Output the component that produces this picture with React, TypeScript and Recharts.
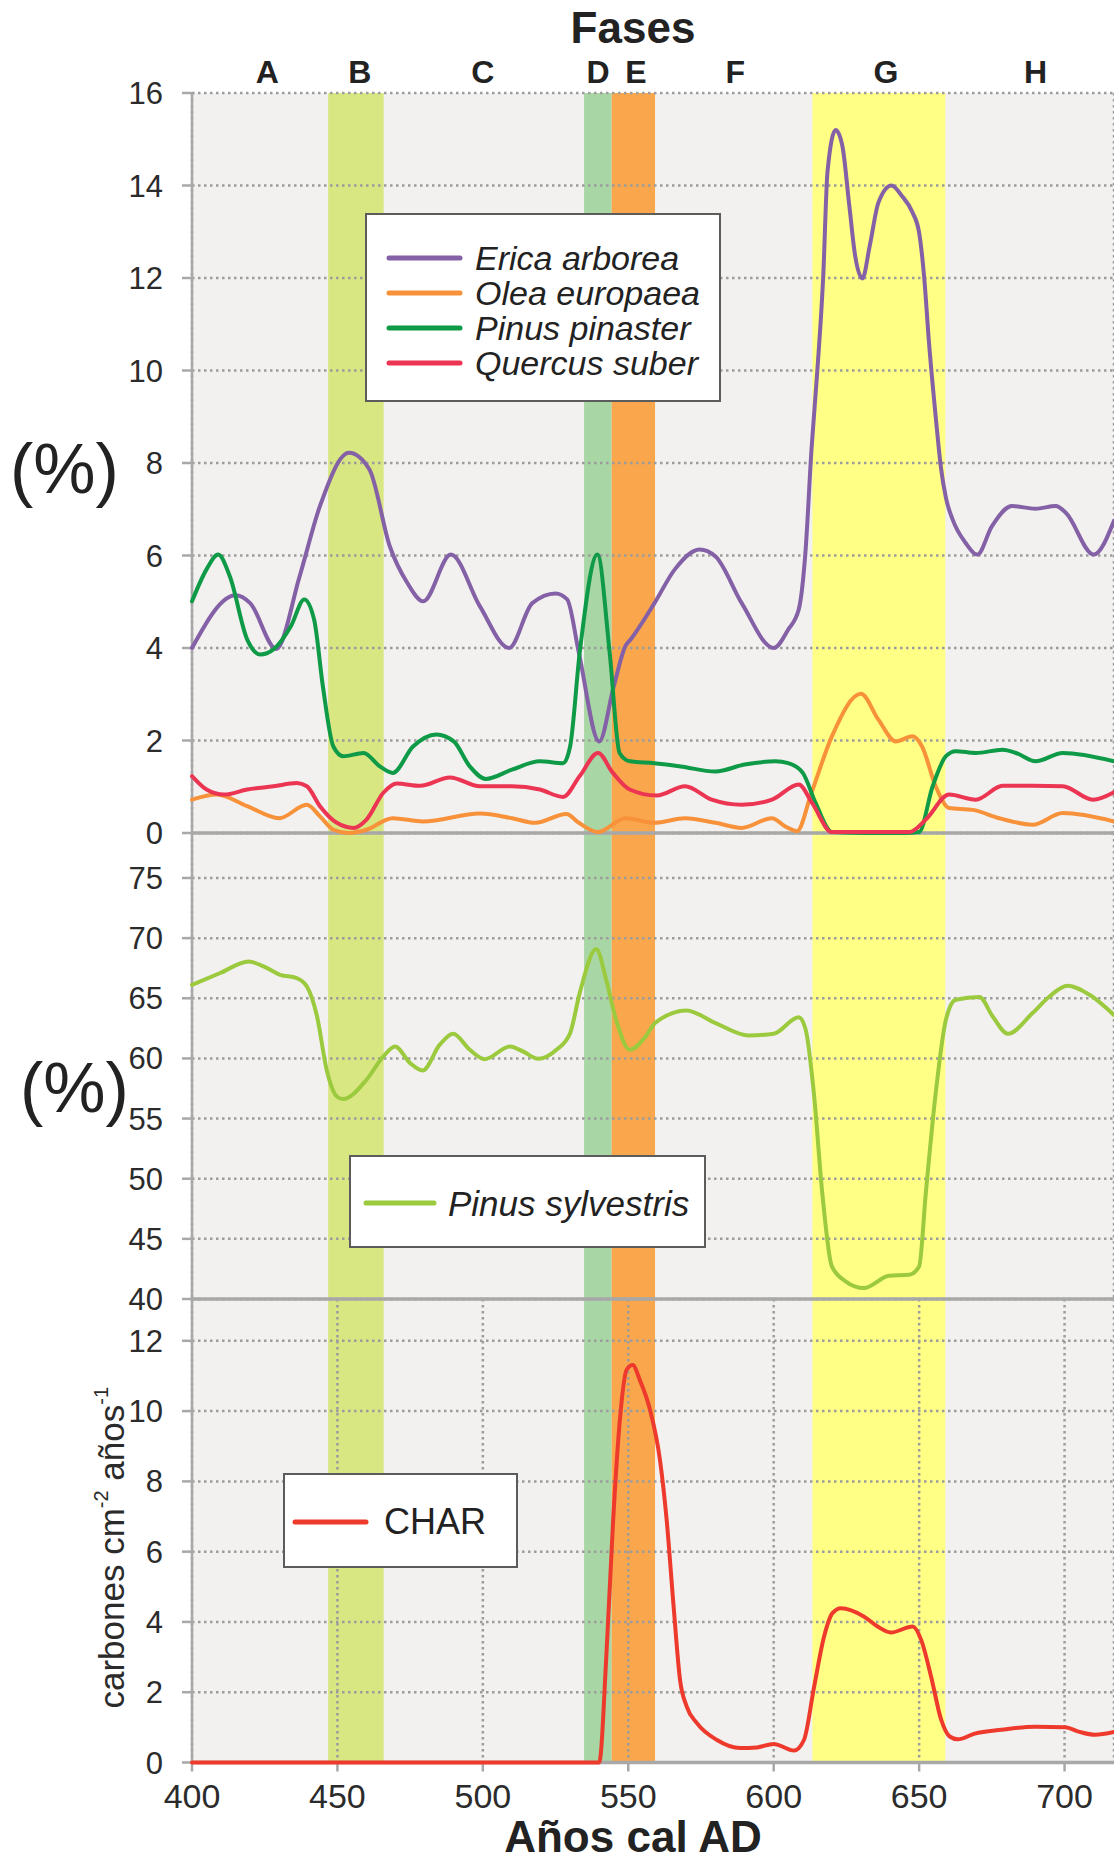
import React from "react";
import {
  CartesianGrid,
  Label,
  Legend,
  Line,
  LineChart,
  ReferenceArea,
  ReferenceLine,
  XAxis,
  YAxis,
} from "recharts";

const FONT = '"Liberation Sans", Arial, Helvetica, sans-serif';

// shared time axis (years cal AD)
const YEAR_DOMAIN: [number, number] = [400, 717];
const YEAR_TICKS = [400, 450, 500, 550, 600, 650, 700];

// phases
const PHASE_LETTERS = ["A", "B", "C", "D", "E", "F", "G", "H"];
const PHASE_CENTERS = [425.9, 457.7, 500, 539.6, 552.6, 586.8, 638.6, 690];
const BAND_FROM = [446.8, 534.8, 544.3, 613.3];
const BAND_TO = [465.9, 544.3, 559.2, 659];
const BAND_FILLS = ["#d9e783", "#a9d6a5", "#f9a64c", "#ffff86"];

// top panel (%)
const ericaYears = [400, 415, 420, 429, 437, 444, 454, 461, 468, 474, 479.5, 489, 499, 509, 517, 525, 529, 533, 540, 545, 549, 551, 559, 566, 574.5, 580, 589, 600, 605, 608.6, 610.9, 613, 615, 617, 618.5, 621.3, 623.6, 626, 628, 630.5, 633, 636, 640.5, 644, 647.7, 650, 651.7, 653.4, 655.7, 657.5, 659.2, 661.5, 666, 670, 675, 682, 690, 697, 700.5, 710, 717];
const ericaValues = [4.0, 5.14, 4.97, 3.98, 5.55, 7.07, 8.22, 7.86, 6.2, 5.41, 5.01, 6.02, 4.9, 4.0, 4.97, 5.18, 5.05, 3.9, 1.98, 3.17, 4.04, 4.2, 4.97, 5.7, 6.13, 5.98, 4.97, 4.0, 4.4, 4.83, 6.06, 8.3, 10.0, 12.0, 14.3, 15.2, 14.86, 13.56, 12.48, 11.99, 12.69, 13.63, 14.0, 13.78, 13.42, 12.98, 12.04, 10.6, 9.0, 7.9, 7.25, 6.78, 6.27, 6.02, 6.63, 7.07, 7.01, 7.07, 6.92, 6.02, 6.75];

const oleaYears = [400, 408.6, 419, 430, 439.5, 444, 448.6, 454, 460, 469, 479.5, 499, 510, 518, 528.7, 533, 539.6, 549, 559, 569.5, 580, 589, 599.4, 604, 608, 613, 620, 630, 636, 642, 647.7, 651, 655.7, 660.3, 668.4, 677.6, 689, 699.4, 717];
const oleaValues = [0.72, 0.83, 0.58, 0.32, 0.61, 0.36, 0.07, 0.0, 0.07, 0.32, 0.25, 0.42, 0.32, 0.22, 0.41, 0.22, 0.02, 0.32, 0.22, 0.32, 0.22, 0.11, 0.32, 0.14, 0.04, 0.87, 2.09, 3.01, 2.45, 1.98, 2.09, 1.87, 1.01, 0.54, 0.5, 0.32, 0.18, 0.43, 0.25];

const pinasterYears = [400, 405, 409, 413, 419, 423.5, 428, 434, 438.6, 442, 445, 448.6, 452, 459, 464.6, 469, 476, 484, 490, 495.5, 501, 510, 519.6, 527.6, 530, 533.3, 539.4, 543.6, 547, 550.5, 559, 568, 580, 590, 600.6, 605, 610, 614.4, 620, 632, 645, 650, 654.6, 659.2, 662.6, 669.5, 678.7, 683.3, 690, 699.4, 717];
const pinasterValues = [5.01, 5.7, 6.02, 5.55, 4.18, 3.86, 3.97, 4.47, 5.05, 4.61, 3.17, 1.87, 1.66, 1.73, 1.44, 1.3, 1.87, 2.13, 1.98, 1.44, 1.17, 1.37, 1.55, 1.51, 1.87, 3.9, 6.02, 3.9, 1.73, 1.55, 1.51, 1.44, 1.33, 1.48, 1.55, 1.51, 1.3, 0.65, 0.02, 0.0, 0.0, 0.02, 1.0, 1.66, 1.77, 1.73, 1.8, 1.73, 1.55, 1.73, 1.55];

const suberYears = [400, 405, 411, 419, 428, 436, 439.5, 444, 449.8, 455.5, 460, 465.8, 470.4, 478.4, 488.7, 499, 510, 519.6, 527.6, 533.3, 539.6, 544.7, 550.5, 559.8, 569.5, 578.7, 589, 599.4, 608.6, 613.2, 620, 632, 646.6, 652.3, 660.3, 669.5, 678.7, 689, 699.4, 709.8, 717];
const suberValues = [1.23, 0.94, 0.83, 0.94, 1.01, 1.08, 1.01, 0.58, 0.22, 0.11, 0.29, 0.87, 1.07, 1.02, 1.2, 1.01, 1.01, 0.94, 0.78, 1.23, 1.73, 1.3, 0.94, 0.81, 1.01, 0.72, 0.61, 0.72, 1.05, 0.65, 0.02, 0.02, 0.02, 0.29, 0.83, 0.72, 1.02, 1.02, 1.01, 0.72, 0.88];

// middle panel (%)
const sylvestrisYears = [400, 409.7, 419.5, 424.6, 430.3, 436, 439.5, 443, 446.3, 449.8, 452, 460, 465.8, 469.8, 475, 479.3, 485.2, 489.8, 495.5, 500.7, 509.3, 513.8, 519, 525.3, 530, 533.3, 539, 542.4, 545.8, 550.5, 556, 559.2, 570, 580, 591.4, 600, 608.6, 611, 613.8, 616.7, 620, 624.7, 631, 639.7, 646.6, 650, 652.3, 655.7, 659.2, 662.6, 670.7, 675.3, 680.5, 689, 694.8, 701, 708.6, 717];
const sylvestrisValues = [66.12, 67.1, 68.06, 67.65, 66.95, 66.68, 65.98, 63.49, 59.06, 56.84, 56.62, 58.23, 60.17, 61.0, 59.61, 59.0, 61.14, 62.05, 60.72, 59.94, 61.0, 60.58, 59.97, 60.72, 62.1, 65.43, 69.09, 66.54, 63.21, 60.72, 61.83, 62.94, 63.99, 62.94, 61.91, 62.05, 63.43, 62.38, 57.12, 48.81, 42.71, 41.47, 40.91, 41.94, 42.02, 42.71, 48.81, 57.12, 63.21, 64.88, 65.1, 63.49, 62.05, 63.77, 65.15, 66.04, 65.29, 63.6];

// bottom panel (carbones cm-2 años-1)
const charYears = [400, 530, 540, 542.5, 544.8, 547.1, 549.4, 551.5, 554, 557.5, 560.9, 563.2, 565.5, 567.8, 570.1, 573.6, 580.5, 588.5, 594.3, 600, 607, 610.4, 613.9, 617.3, 620.2, 623.1, 631.1, 635.7, 640.3, 647.8, 650.7, 654.1, 657.6, 660.5, 663.3, 669.1, 678.3, 689.8, 700.2, 704.8, 710.5, 717];
const charValues = [0, 0, 0, 3.1, 6.9, 9.74, 11.17, 11.31, 10.88, 10.03, 8.61, 6.9, 4.53, 2.35, 1.59, 1.12, 0.64, 0.41, 0.43, 0.53, 0.34, 0.64, 2.16, 3.58, 4.25, 4.39, 4.15, 3.87, 3.7, 3.87, 3.49, 2.45, 1.21, 0.74, 0.66, 0.82, 0.93, 1.02, 1.0, 0.88, 0.79, 0.87];

const toPoints = (years: number[], values: number[]) =>
  years.map((year, i) => ({ year, v: values[i] }));

const GRID = "#9c9c9c";
const AXIS = "#a8a8a8";
const TEXT = "#2b2b2b";
const PLOT_BG = "#f2f1ef";

function Bands() {
  return BAND_FROM.map((x1, i) => (
    <ReferenceArea
      key={`band-${i}`}
      x1={x1}
      x2={BAND_TO[i]}
      fill={BAND_FILLS[i]}
      fillOpacity={1}
      stroke="none"
      ifOverflow="hidden"
      zIndex={-200}
    />
  ));
}

function PhaseLetters() {
  return PHASE_CENTERS.map((x, i) => (
    <ReferenceLine
      key={`phase-${i}`}
      x={x}
      stroke="none"
      label={{
        value: PHASE_LETTERS[i],
        position: "top",
        offset: 10,
        fontSize: 32,
        fontWeight: "bold",
        fill: "#222",
        fontFamily: FONT,
      }}
    />
  ));
}

function LegendBox({
  payload,
  italic,
  fontSize,
  rowHeight,
  padTop,
  lineLeft,
  lineWidth,
  gap,
}: any) {
  return (
    <div
      style={{
        boxSizing: "border-box",
        width: "100%",
        height: "100%",
        background: "#fff",
        border: "2px solid #5c5c5c",
        paddingTop: padTop,
        fontFamily: FONT,
      }}
    >
      {(payload || []).map((entry: any) => (
        <div
          key={entry.value}
          style={{ display: "flex", alignItems: "center", height: rowHeight }}
        >
          <svg width={lineLeft + lineWidth + gap} height={10} style={{ flex: "none" }}>
            <line
              x1={lineLeft}
              x2={lineLeft + lineWidth}
              y1={5}
              y2={5}
              stroke={entry.color}
              strokeWidth={5}
              strokeLinecap="round"
            />
          </svg>
          <span
            style={{
              fontSize,
              fontStyle: italic ? "italic" : "normal",
              color: "#222",
              whiteSpace: "nowrap",
              lineHeight: 1,
            }}
          >
            {entry.value}
          </span>
        </div>
      ))}
    </div>
  );
}

const lineProps = {
  dataKey: "v",
  type: "monotone" as const,
  strokeWidth: 4,
  dot: false,
  activeDot: false,
  isAnimationActive: false,
  strokeLinecap: "round" as const,
  strokeLinejoin: "round" as const,
  zIndex: 600,
};

const yTick = { fontSize: 31, fill: TEXT, fontFamily: FONT };

const gridLines = (
  <CartesianGrid
    stroke={GRID}
    strokeWidth={2.5}
    strokeDasharray="2.5 3.5"
    fill="none"
    zIndex={-100}
  />
);

export default function App() {
  return (
    <div
      style={{
        position: "absolute",
        left: 0,
        top: 0,
        width: 1114,
        height: 1863,
        background: "#fff",
        overflow: "hidden",
        fontFamily: FONT,
      }}
    >
      {/* bottom panel: CHAR */}
      <div style={{ position: "absolute", left: 0, top: 1299, zIndex: 1 }}>
        <LineChart width={1114} height={564} margin={{ top: 0, right: 0, bottom: 0, left: 0 }}>
          <CartesianGrid fill={PLOT_BG} horizontal={false} vertical={false} zIndex={-300} />
          {Bands()}
          {gridLines}
          <XAxis
            dataKey="year"
            type="number"
            domain={YEAR_DOMAIN}
            ticks={YEAR_TICKS}
            interval={0}
            height={100.5}
            tickSize={9}
            tickMargin={12}
            axisLine={{ stroke: AXIS, strokeWidth: 3.5 }}
            tickLine={{ stroke: AXIS, strokeWidth: 2.5 }}
            tick={{ fontSize: 34, fill: TEXT, fontFamily: FONT }}
          >
            <Label
              content={({ viewBox }: any) => (
                <text
                  x={viewBox.x + viewBox.width / 2 - 20}
                  y={viewBox.y + 89.5}
                  textAnchor="middle"
                  fontSize={44}
                  fontWeight="bold"
                  fill="#222"
                  fontFamily={FONT}
                >
                  Años cal AD
                </text>
              )}
            />
          </XAxis>
          <YAxis
            type="number"
            domain={[0, 13.19]}
            ticks={[0, 2, 4, 6, 8, 10, 12]}
            interval={0}
            width={192}
            tickSize={10}
            tickMargin={19}
            axisLine={{ stroke: AXIS, strokeWidth: 2.5 }}
            tickLine={{ stroke: AXIS, strokeWidth: 2.5 }}
            tick={yTick}
          >
            <Label
              content={({ viewBox }: any) => {
                const cx = 124;
                const cy = viewBox.y + viewBox.height / 2 + 17;
                return (
                  <text
                    x={cx}
                    y={cy}
                    transform={`rotate(-90, ${cx}, ${cy})`}
                    textAnchor="middle"
                    fontSize={35}
                    fill={TEXT}
                    fontFamily={FONT}
                  >
                    carbones cm
                    <tspan fontSize={20} dy={-16}>-2</tspan>
                    <tspan dy={16}> años</tspan>
                    <tspan fontSize={20} dy={-16}>-1</tspan>
                  </text>
                );
              }}
            />
          </YAxis>
          <Legend
            verticalAlign="middle"
            align="center"
            layout="horizontal"
            wrapperStyle={{ left: 283, top: 174, width: 235, height: 95 }}
            content={(props: any) => (
              <LegendBox
                {...props}
                italic={false}
                fontSize={36}
                rowHeight={36}
                padTop={29}
                lineLeft={10}
                lineWidth={71}
                gap={18}
              />
            )}
          />
          <Line {...lineProps} data={toPoints(charYears, charValues)} name="CHAR" stroke="#ee3a2c" />
        </LineChart>
      </div>

      {/* middle panel: Pinus sylvestris */}
      <div style={{ position: "absolute", left: 0, top: 833, zIndex: 2 }}>
        <LineChart width={1114} height={495} margin={{ top: 0, right: 0, bottom: 0, left: 0 }}>
          <CartesianGrid fill={PLOT_BG} horizontal={false} vertical={false} zIndex={-300} />
          {Bands()}
          {gridLines}
          <XAxis
            dataKey="year"
            type="number"
            domain={YEAR_DOMAIN}
            ticks={YEAR_TICKS}
            interval={0}
            height={29}
            tickSize={9}
            tick={false}
            axisLine={{ stroke: AXIS, strokeWidth: 3.5 }}
            tickLine={{ stroke: AXIS, strokeWidth: 2.5 }}
          />
          <YAxis
            type="number"
            domain={[40, 78.74]}
            ticks={[40, 45, 50, 55, 60, 65, 70, 75]}
            interval={0}
            width={192}
            tickSize={10}
            tickMargin={19}
            axisLine={{ stroke: AXIS, strokeWidth: 2.5 }}
            tickLine={{ stroke: AXIS, strokeWidth: 2.5 }}
            tick={yTick}
          >
            <Label
              content={({ viewBox }: any) => (
                <text
                  x={20}
                  y={viewBox.y + viewBox.height / 2 + 21}
                  dy="0.35em"
                  fontSize={70}
                  fill="#222"
                  fontFamily={FONT}
                >
                  (%)
                </text>
              )}
            />
          </YAxis>
          <Legend
            verticalAlign="middle"
            align="center"
            layout="horizontal"
            wrapperStyle={{ left: 349, top: 322, width: 357, height: 93 }}
            content={(props: any) => (
              <LegendBox
                {...props}
                italic
                fontSize={35}
                rowHeight={34}
                padTop={29}
                lineLeft={15}
                lineWidth={68}
                gap={14}
              />
            )}
          />
          <Line
            {...lineProps}
            data={toPoints(sylvestrisYears, sylvestrisValues)}
            name="Pinus sylvestris"
            stroke="#9bca3e"
          />
        </LineChart>
      </div>

      {/* top panel: Erica, Olea, Pinus pinaster, Quercus suber */}
      <div style={{ position: "absolute", left: 0, top: 0, zIndex: 3 }}>
        <LineChart width={1114} height={860} margin={{ top: 50, right: 0, bottom: 0, left: 0 }}>
          <CartesianGrid fill={PLOT_BG} horizontal={false} vertical={false} zIndex={-300} />
          {Bands()}
          {gridLines}
          {PhaseLetters()}
          <XAxis
            dataKey="year"
            type="number"
            domain={YEAR_DOMAIN}
            ticks={YEAR_TICKS}
            interval={0}
            height={27}
            tickSize={9}
            tick={false}
            axisLine={{ stroke: AXIS, strokeWidth: 3.5 }}
            tickLine={{ stroke: AXIS, strokeWidth: 2.5 }}
          />
          <XAxis
            xAxisId="phases"
            orientation="top"
            type="number"
            domain={YEAR_DOMAIN}
            height={43}
            tick={false}
            axisLine={false}
            tickLine={false}
          >
            <Label
              content={({ viewBox }: any) => (
                <text
                  x={viewBox.x + viewBox.width / 2 - 20}
                  y={viewBox.y - 7}
                  textAnchor="middle"
                  fontSize={44}
                  fontWeight="bold"
                  fill="#222"
                  fontFamily={FONT}
                >
                  Fases
                </text>
              )}
            />
          </XAxis>
          <YAxis
            type="number"
            domain={[0, 16]}
            ticks={[0, 2, 4, 6, 8, 10, 12, 14, 16]}
            interval={0}
            width={192}
            tickSize={10}
            tickMargin={19}
            axisLine={{ stroke: AXIS, strokeWidth: 2.5 }}
            tickLine={{ stroke: AXIS, strokeWidth: 2.5 }}
            tick={yTick}
          >
            <Label
              content={({ viewBox }: any) => (
                <text
                  x={10}
                  y={viewBox.y + viewBox.height / 2 + 5}
                  dy="0.35em"
                  fontSize={70}
                  fill="#222"
                  fontFamily={FONT}
                >
                  (%)
                </text>
              )}
            />
          </YAxis>
          <Legend
            verticalAlign="middle"
            align="center"
            layout="horizontal"
            wrapperStyle={{ left: 365, top: 213, width: 356, height: 189 }}
            content={(props: any) => (
              <LegendBox
                {...props}
                italic
                fontSize={34}
                rowHeight={34.9}
                padTop={25.5}
                lineLeft={22}
                lineWidth={71}
                gap={15}
              />
            )}
          />
          <Line {...lineProps} data={toPoints(ericaYears, ericaValues)} name="Erica arborea" stroke="#8461a6" />
          <Line {...lineProps} data={toPoints(oleaYears, oleaValues)} name="Olea europaea" stroke="#f7923a" />
          <Line {...lineProps} data={toPoints(pinasterYears, pinasterValues)} name="Pinus pinaster" stroke="#0f9a48" />
          <Line {...lineProps} data={toPoints(suberYears, suberValues)} name="Quercus suber" stroke="#eb3552" />
        </LineChart>
      </div>
    </div>
  );
}
